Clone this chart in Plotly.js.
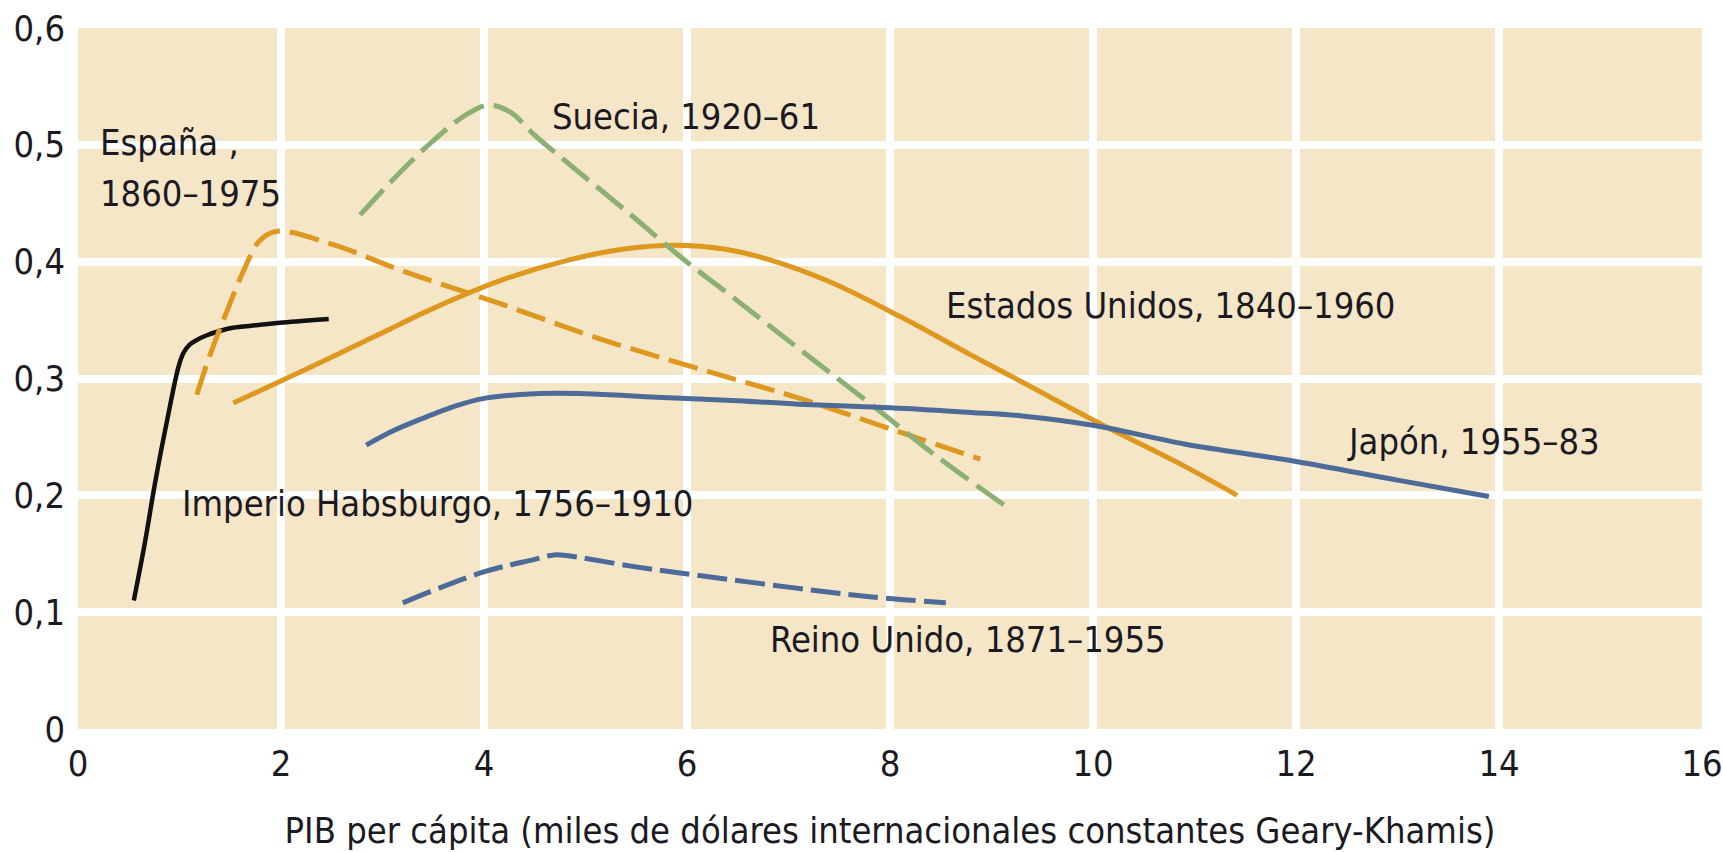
<!DOCTYPE html>
<html>
<head>
<meta charset="utf-8">
<script src="https://cdn.plot.ly/plotly-3.0.1.min.js"></script>
<style>
html,body{margin:0;padding:0;background:#fff;}
#chart{width:1723px;height:852px;}
</style>
</head>
<body>
<div id="chart"></div>
<script>
// ---- Data ----
const habsburgoX = [0.55, 0.66, 0.76, 0.88, 0.99, 1.04, 1.10, 1.17, 1.27, 1.37, 1.50, 1.69, 2.02, 2.47];
const habsburgoY = [0.110, 0.160, 0.211, 0.265, 0.310, 0.322, 0.329, 0.333, 0.337, 0.340, 0.343, 0.345, 0.348, 0.351];

const espanaX = [1.17, 1.30, 1.46, 1.63, 1.79, 1.96, 2.50, 3.20, 4.16, 5.14, 6.13, 7.11, 8.10, 8.89];
const espanaY = [0.286, 0.320, 0.356, 0.392, 0.418, 0.426, 0.415, 0.392, 0.364, 0.334, 0.308, 0.283, 0.254, 0.231];

const eeuuX = [1.53, 2.20, 2.90, 3.50, 4.20, 4.86, 5.40, 5.90, 6.35, 6.80, 7.40, 8.10, 8.80, 9.30, 10.10, 10.90, 11.42];
const eeuuY = [0.279, 0.306, 0.335, 0.360, 0.385, 0.402, 0.411, 0.414, 0.411, 0.402, 0.383, 0.353, 0.320, 0.297, 0.260, 0.225, 0.200];

const sueciaX = [2.78, 3.10, 3.48, 3.81, 4.04, 4.26, 4.49, 4.86, 5.42, 5.98, 6.46, 7.11, 7.90, 8.42, 9.12];
const sueciaY = [0.440, 0.470, 0.502, 0.525, 0.534, 0.528, 0.509, 0.482, 0.442, 0.401, 0.369, 0.325, 0.272, 0.236, 0.192];

const japonX = [2.84, 3.10, 3.40, 3.70, 4.00, 4.50, 5.00, 5.70, 6.50, 7.10, 8.00, 8.80, 9.30, 10.00, 10.90, 12.00, 13.00, 13.90];
const japonY = [0.243, 0.255, 0.266, 0.276, 0.283, 0.287, 0.287, 0.284, 0.281, 0.278, 0.275, 0.271, 0.268, 0.260, 0.244, 0.229, 0.213, 0.199];

const reinoX = [3.20, 3.98, 4.49, 4.69, 4.85, 5.48, 6.07, 7.04, 7.83, 8.55];
const reinoY = [0.108, 0.134, 0.145, 0.149, 0.148, 0.139, 0.132, 0.121, 0.113, 0.108];

const yTickVals = [0, 0.1, 0.2, 0.3, 0.4, 0.5, 0.6];
const yTickText = ['0', '0,1', '0,2', '0,3', '0,4', '0,5', '0,6'];
const xTickVals = [0, 2, 4, 6, 8, 10, 12, 14, 16];
const xTickText = ['0', '2', '4', '6', '8', '10', '12', '14', '16'];

const labelTexts = ['España ,', '1860–1975', 'Suecia, 1920–61', 'Estados Unidos, 1840–1960',
  'Japón, 1955–83', 'Imperio Habsburgo, 1756–1910', 'Reino Unido, 1871–1955'];
const labelX = [0.20, 0.20, 4.65, 8.53, 12.48, 1.00, 6.80];
const labelY = [0.502, 0.458, 0.524, 0.3626, 0.246, 0.193, 0.0767];

// ---- Styles ----
const FONT = "'Liberation Sans Narrow', 'DejaVu Sans Condensed', 'Roboto', sans-serif";
const ORANGE = '#DE981F';
const GREEN = '#8BB071';
const BLUE = '#4D6B98';
const BLACK = '#111111';
const BG = '#F5E6C8';
const TXT = '#1b1a22';

function tr(x, y, color, dash, width) {
  return {x: x, y: y, type: 'scatter', mode: 'lines',
    line: {color: color, width: width || 5, dash: dash || 'solid', shape: 'spline', smoothing: 1},
    hoverinfo: 'skip', showlegend: false};
}

const data = [
  tr(habsburgoX, habsburgoY, BLACK, 'solid', 4.5),
  tr(eeuuX, eeuuY, ORANGE, 'solid', 5),
  tr(espanaX, espanaY, ORANGE, '30px,10px', 5),
  tr(sueciaX, sueciaY, GREEN, '34px,10px', 5),
  tr(japonX, japonY, BLUE, 'solid', 5),
  tr(reinoX, reinoY, BLUE, '30px,8px', 5)
];

const annotations = labelTexts.map((t, i) => ({
  x: labelX[i], y: labelY[i], xref: 'x', yref: 'y', text: t, showarrow: false,
  xanchor: 'left', yanchor: 'middle', align: 'left',
  font: {family: FONT, size: 36, color: TXT}
}));

const layout = {
  width: 1723, height: 852,
  margin: {l: 78, r: 21, t: 28, b: 123},
  paper_bgcolor: '#ffffff',
  plot_bgcolor: BG,
  font: {family: FONT, color: TXT},
  xaxis: {
    range: [0, 16], tickvals: xTickVals, ticktext: xTickText,
    showgrid: true, gridcolor: '#ffffff', gridwidth: 8, zeroline: false,
    showline: false, ticks: '', ticklabelstandoff: 10,
    tickfont: {family: FONT, size: 36, color: TXT},
    title: {text: 'PIB per cápita (miles de dólares internacionales constantes Geary-Khamis)',
      font: {family: FONT, size: 36, color: TXT}, standoff: 34},
    automargin: false, fixedrange: true
  },
  yaxis: {
    range: [0, 0.6], tickvals: yTickVals, ticktext: yTickText,
    showgrid: true, gridcolor: '#ffffff', gridwidth: 8, zeroline: false,
    showline: false, ticks: '', ticklabelstandoff: 12,
    tickfont: {family: FONT, size: 36, color: TXT},
    automargin: false, fixedrange: true
  },
  annotations: annotations,
  showlegend: false
};

Plotly.newPlot('chart', data, layout, {displayModeBar: false, staticPlot: true});
</script>
</body>
</html>
